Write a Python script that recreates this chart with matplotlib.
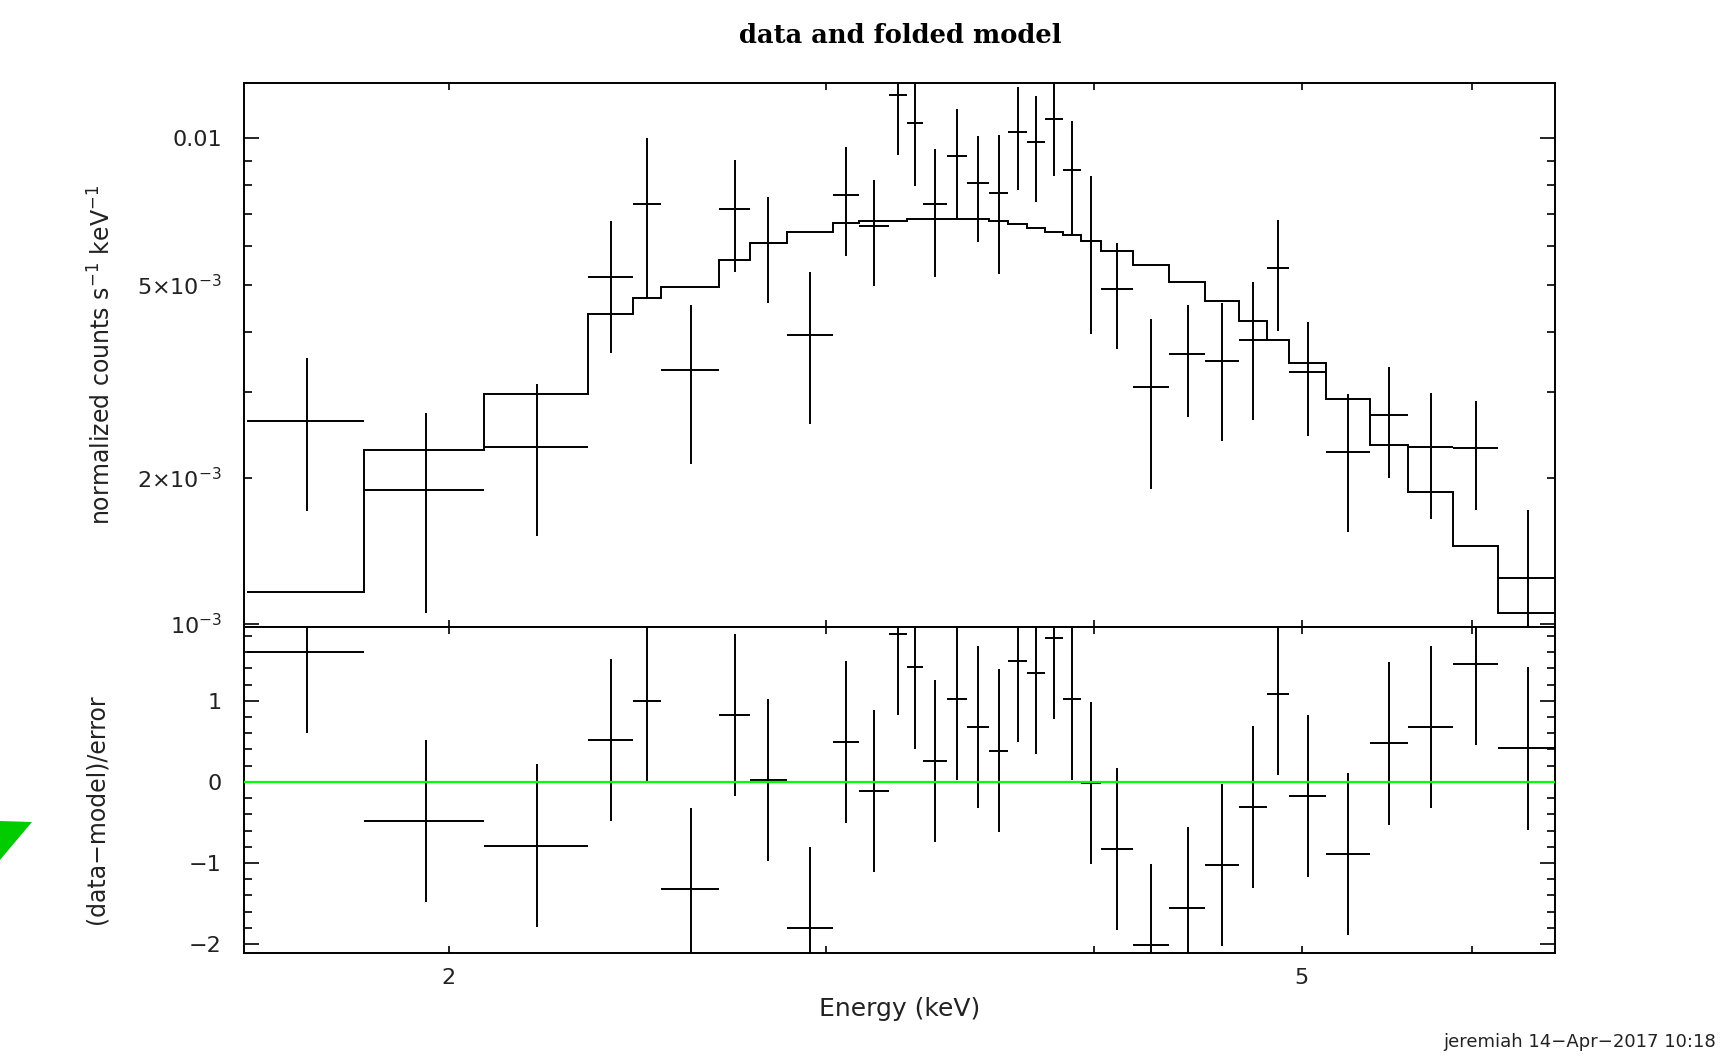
import numpy as np
import matplotlib
matplotlib.use('Agg')
import matplotlib.pyplot as plt
from matplotlib.ticker import FixedLocator, FixedFormatter, NullLocator
from matplotlib.patches import Polygon

# bin edges (keV)
edges = [1.610, 1.825, 2.077, 2.322, 2.437, 2.513, 2.674, 2.763, 2.875, 3.022,
         3.107, 3.208, 3.272, 3.329, 3.416, 3.491, 3.574, 3.648, 3.720, 3.794,
         3.868, 3.945, 4.031, 4.171, 4.336, 4.508, 4.674, 4.817, 4.933, 5.129,
         5.377, 5.601, 5.883, 6.174, 6.570]

# normalized counts s^-1 keV^-1 (x 1e-3)
data = [2.621, 1.885, 2.320, 5.178, 7.337, 3.337, 7.166, 6.083, 3.945, 7.651,
        6.585, 12.27, 10.75, 7.337, 9.188, 8.109, 7.719, 10.31, 9.813, 10.94,
        8.587, 6.156, 4.889, 3.076, 3.602, 3.481, 3.840, 5.403, 3.309, 2.262,
        2.689, 2.320, 2.300, 1.245]
err = [0.91, 0.83, 0.80, 1.57, 2.66, 1.20, 1.87, 1.50, 1.36, 1.93,
       1.63, 3.03, 2.79, 2.15, 2.33, 2.00, 2.46, 2.47, 2.41, 2.56,
       2.26, 2.20, 1.20, 1.175, 0.93, 1.10, 1.215, 1.40, 0.87, 0.715,
       0.695, 0.675, 0.585, 0.473]
model = [1.164, 2.278, 2.975, 4.352, 4.694, 4.94, 5.627, 6.083, 6.421, 6.698,
         6.756, 6.77, 6.81, 6.83, 6.83, 6.82, 6.756, 6.653, 6.531, 6.421,
         6.324, 6.135, 5.869, 5.494, 5.049, 4.617, 4.207, 3.847, 3.451, 2.900,
         2.335, 1.869, 1.445, 1.052]

# (data-model)/error
resid = [1.604, -0.479, -0.785, 0.520, 0.998, -1.324, 0.825, 0.020, -1.80, 0.495,
         -0.108, 1.823, 1.411, 0.26, 1.019, 0.672, 0.387, 1.493, 1.344, 1.777,
         1.019, -0.012, -0.826, -2.014, -1.56, -1.02, -0.306, 1.084, -0.173, -0.891,
         0.474, 0.672, 1.456, 0.412]

edges = np.array(edges)
lo = edges[:-1]
hi = edges[1:]
xc = (lo + hi) / 2
data = np.array(data) * 1e-3
err = np.array(err) * 1e-3
model = np.array(model) * 1e-3
resid = np.array(resid)

plt.rcParams['font.family'] = 'DejaVu Sans'
plt.rcParams['mathtext.fontset'] = 'dejavusans'
txt = '#222222'
lw = 1.4
fs = 16

fig = plt.figure(figsize=(17.33, 10.57), dpi=100)
ax1 = fig.add_axes([0.1408, 0.4068, 0.7565, 0.5147])
ax2 = fig.add_axes([0.1408, 0.0984, 0.7565, 0.3084])

ax1.errorbar(xc, data, xerr=[xc - lo, hi - xc], yerr=err, fmt='none',
             ecolor='black', elinewidth=lw, capsize=0)
ax1.stairs(model, edges, baseline=None, color='black', linewidth=lw)

ax2.errorbar(xc, resid, xerr=[xc - lo, hi - xc], yerr=1.0, fmt='none',
             ecolor='black', elinewidth=lw, capsize=0, zorder=2)
ax2.axhline(0, color='#00ff00', linewidth=1.6, zorder=3)

for ax in (ax1, ax2):
    ax.set_xscale('log')
    ax.set_xlim(1.605, 6.562)
    ax.xaxis.set_major_locator(FixedLocator([2, 3, 4, 5, 6]))
    ax.xaxis.set_major_formatter(FixedFormatter(['2', '', '', '5', '']))
    ax.xaxis.set_minor_locator(NullLocator())
    ax.tick_params(axis='x', which='both', direction='in', top=True, bottom=True,
                   length=5, width=1.2, labelsize=fs, labelcolor=txt, pad=11)
    ax.tick_params(axis='y', which='major', direction='in', left=True, right=True,
                   length=11, width=1.2, labelsize=fs, labelcolor=txt, pad=16)
    ax.tick_params(axis='y', which='minor', direction='in', left=True, right=True,
                   length=6, width=1.2, labelsize=fs, labelcolor=txt, pad=16)
    for s in ax.spines.values():
        s.set_linewidth(1.4)

ax1.tick_params(axis='x', labelbottom=False)

ax1.set_yscale('log')
ax1.set_ylim(9.86e-4, 1.3e-2)
ax1.yaxis.set_major_locator(FixedLocator([1e-3, 1e-2]))
ax1.yaxis.set_major_formatter(FixedFormatter([r'$10^{-3}$', '0.01']))
minor_y = [2e-3, 3e-3, 4e-3, 5e-3, 6e-3, 7e-3, 8e-3, 9e-3]
minor_lab = [r'$2{\times}10^{-3}$', '', '', r'$5{\times}10^{-3}$', '', '', '', '']
ax1.yaxis.set_minor_locator(FixedLocator(minor_y))
ax1.yaxis.set_minor_formatter(FixedFormatter(minor_lab))

ax2.set_ylim(-2.11, 1.91)
ax2.yaxis.set_major_locator(FixedLocator([-2, -1, 0, 1]))
ax2.yaxis.set_major_formatter(FixedFormatter(['\u22122', '\u22121', '0', '1']))
ax2.yaxis.set_minor_locator(FixedLocator(np.arange(-2.0, 1.95, 0.2)))

ax1.set_ylabel(r'normalized counts s$^{-1}$ keV$^{-1}$', fontsize=17, color=txt)
ax1.yaxis.set_label_coords(-0.098, 0.5)
ax2.set_ylabel('(data\u2212model)/error', fontsize=17, color=txt)
ax2.yaxis.set_label_coords(-0.103, 0.44)
ax2.set_xlabel('Energy (keV)', fontsize=18, color=txt, labelpad=6)

fig.text(0.5193, 0.966, 'data and folded model', ha='center', va='center',
         fontsize=18.5, family='DejaVu Serif', fontweight='bold', color='black')
fig.text(0.990, 0.014, 'jeremiah 14\u2212Apr\u22122017 10:18', ha='right', va='center',
         fontsize=13, color=txt)

tri = Polygon([[0, 1 - 821 / 1057], [32 / 1733, 1 - 822 / 1057], [0, 1 - 860 / 1057]],
              closed=True, transform=fig.transFigure, facecolor='#00cc00',
              edgecolor='none')
fig.patches.append(tri)

fig.savefig('out.png', dpi=100, facecolor='white')
